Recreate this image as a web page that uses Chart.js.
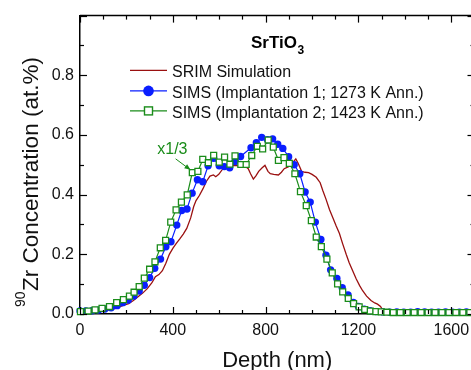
<!DOCTYPE html>
<html><head><meta charset="utf-8">
<script src="https://cdn.jsdelivr.net/npm/chart.js@4.4.1/dist/chart.umd.min.js"></script>
<style>
html,body{margin:0;padding:0;overflow:hidden;background:#fff;width:471px;height:370px}
#wrap{position:absolute;left:0;top:0;width:480px;height:370px}
canvas{display:block}
</style></head>
<body><div id="wrap"><canvas id="c" width="480" height="370"></canvas></div>
<script>
// ---- data ----
const seriesNames = ['SRIM Simulation', 'SIMS (Implantation 1; 1273 K Ann.)', 'SIMS (Implantation 2; 1423 K Ann.)'];
const xTicks = [0, 400, 800, 1200, 1600];
const yTicks = [0.0, 0.2, 0.4, 0.6, 0.8];

const srimDepth = [0,50,100,150,190,210,230,250,270,290,310,325,340,355,370,385,400,415,430,445,460,477,490,500,515,530,545,560,575,585,598,615,635,655,675,695,712,725,735,747,758,770,785,797,810,820,835,855,868,880,897,911,922,930,940,955,970,985,1000,1018,1035,1047,1060,1075,1090,1104,1118,1132,1147,1160,1175,1190,1205,1218,1235,1254,1270,1282,1295,1305,1315,1330,1400,1500,1600,1700];
const srimConc  = [0.003,0.005,0.010,0.018,0.030,0.035,0.045,0.058,0.070,0.085,0.105,0.125,0.132,0.145,0.170,0.200,0.220,0.237,0.252,0.268,0.287,0.322,0.360,0.380,0.398,0.420,0.445,0.462,0.466,0.460,0.468,0.486,0.492,0.498,0.497,0.494,0.495,0.487,0.470,0.452,0.463,0.478,0.490,0.498,0.478,0.470,0.468,0.466,0.475,0.487,0.493,0.500,0.512,0.520,0.505,0.478,0.475,0.474,0.468,0.458,0.440,0.412,0.385,0.350,0.322,0.295,0.270,0.235,0.200,0.172,0.145,0.118,0.095,0.078,0.060,0.045,0.037,0.033,0.025,0.012,0.004,0.002,0.001,0.001,0.001,0.001];

const sims1Depth = [0,25,52,80,107,134,160,184,208,232,255,277,300,322,347,370,392,417,438,461,483,506,529,552,576,600,622,645,668,692,737,760,783,808,830,852,874,899,923,947,970,992,1014,1038,1060,1080,1107,1130,1155,1178,1200,1225,1250,1275,1305,1335,1365,1395,1425,1455,1485,1515,1545,1575,1605,1635,1665,1695];
const sims1Conc  = [0.010,0.010,0.011,0.013,0.017,0.021,0.028,0.038,0.047,0.060,0.077,0.096,0.122,0.153,0.184,0.225,0.242,0.298,0.347,0.352,0.405,0.450,0.443,0.497,0.522,0.497,0.494,0.490,0.511,0.528,0.557,0.574,0.592,0.584,0.587,0.569,0.555,0.527,0.500,0.470,0.409,0.375,0.308,0.250,0.197,0.148,0.119,0.088,0.064,0.039,0.025,0.016,0.011,0.008,0.007,0.006,0.007,0.006,0.006,0.008,0.007,0.006,0.006,0.007,0.006,0.006,0.007,0.006];

const sims2Depth = [2,35,65,95,127,158,187,213,233,255,277,300,323,346,369,391,414,437,462,484,508,529,553,576,600,623,646,668,693,716,740,764,787,811,833,855,879,902,926,950,975,997,1018,1040,1064,1087,1110,1132,1156,1179,1203,1227,1251,1275,1298,1322,1350,1380,1410,1440,1470,1500,1530,1560,1590,1620,1650,1680];
const sims2Conc  = [0.008,0.010,0.014,0.019,0.025,0.038,0.048,0.060,0.073,0.092,0.120,0.150,0.175,0.222,0.247,0.308,0.349,0.375,0.399,0.474,0.478,0.518,0.507,0.532,0.509,0.526,0.502,0.530,0.501,0.501,0.531,0.562,0.553,0.583,0.559,0.515,0.524,0.505,0.470,0.410,0.363,0.313,0.258,0.226,0.184,0.138,0.101,0.074,0.052,0.035,0.024,0.015,0.010,0.008,0.007,0.006,0.005,0.005,0.005,0.005,0.005,0.005,0.005,0.005,0.005,0.005,0.005,0.005];

// annotation "x1/3" (data coordinates)
const noteText = 'x1/3';
const noteAt = {x: 398, y: 0.536};
const arrowFrom = {x: 412, y: 0.520};
const arrowTo = {x: 476, y: 0.483};

const RED = '#9a1010', BLUE = '#0a1eff', GREEN = '#1a8c1a';
const FONT = '"Liberation Sans", Arial, Helvetica, sans-serif';

const pts = (xs, ys) => xs.map((v, i) => ({x: v, y: ys[i]}));

const deco = {
  id: 'deco',
  afterDraw(chart) {
    const {ctx, chartArea: a, scales: {x, y}} = chart;
    ctx.save();
    ctx.strokeStyle = '#000';
    const line = (x1, y1, x2, y2) => { ctx.beginPath(); ctx.moveTo(x1, y1); ctx.lineTo(x2, y2); ctx.stroke(); };
    // top and right frame
    ctx.lineWidth = 1.5;
    line(a.left, a.top, a.right, a.top);
    line(a.right, a.top, a.right, a.bottom);
    // inward ticks (major + minor)
    ctx.lineWidth = 1.2;
    for (let v = x.min; v <= x.max; v += 100) {
      const px = Math.round(x.getPixelForValue(v)) + 0.5;
      const L = (v % 400 === 0) ? 7 : 4;
      line(px, a.bottom, px, a.bottom - L);
      line(px, a.top, px, a.top + L);
    }
    for (let k = 0; k <= 10; k++) {
      const py = Math.round(y.getPixelForValue(k / 10)) + 0.5;
      const L = (k % 2 === 0) ? 7 : 4;
      line(a.left, py, a.left + L, py);
      line(a.right, py, a.right - L, py);
    }
    // title SrTiO3
    ctx.fillStyle = '#000';
    ctx.textBaseline = 'alphabetic';
    ctx.textAlign = 'left';
    ctx.font = 'bold 17px ' + FONT;
    const w1 = ctx.measureText('SrTiO').width;
    ctx.font = 'bold 12px ' + FONT;
    const w2 = ctx.measureText('3').width;
    const cx = (a.left + a.right) / 2;
    const tx = cx - (w1 + w2) / 2;
    ctx.font = 'bold 17px ' + FONT;
    ctx.fillText('SrTiO', tx, a.top + 32);
    ctx.font = 'bold 12px ' + FONT;
    ctx.fillText('3', tx + w1 + 0.5, a.top + 38);
    // legend
    const ds = chart.data.datasets;
    const lx1 = a.left + 50, lx2 = a.left + 87, ltx = a.left + 92;
    const rows = [a.top + 54.7, a.top + 75.3, a.top + 95.3];
    ds.forEach((d, i) => {
      const ly = rows[i];
      ctx.strokeStyle = d.borderColor; ctx.lineWidth = d.borderWidth;
      line(lx1, ly, lx2, ly);
      const mx = (lx1 + lx2) / 2;
      if (d.pointStyle === 'circle' && d.pointRadius > 0) {
        ctx.fillStyle = d.pointBackgroundColor;
        ctx.beginPath(); ctx.arc(mx, ly, 5.3, 0, Math.PI * 2); ctx.fill();
      } else if (d.pointStyle === 'rect') {
        ctx.fillStyle = '#fff'; ctx.lineWidth = 1.4; ctx.strokeStyle = d.pointBorderColor;
        ctx.fillRect(mx - 4, ly - 4, 8, 8); ctx.strokeRect(mx - 4, ly - 4, 8, 8);
      }
      ctx.fillStyle = '#111';
      ctx.font = '16px ' + FONT;
      ctx.fillText(seriesNames[i], ltx, ly + 7);
    });
    // note x1/3 with arrow
    ctx.fillStyle = GREEN; ctx.strokeStyle = GREEN;
    ctx.font = '16px ' + FONT; ctx.textAlign = 'center';
    ctx.fillText(noteText, x.getPixelForValue(noteAt.x), y.getPixelForValue(noteAt.y));
    const ax1 = x.getPixelForValue(arrowFrom.x), ay1 = y.getPixelForValue(arrowFrom.y);
    const ax2 = x.getPixelForValue(arrowTo.x), ay2 = y.getPixelForValue(arrowTo.y);
    ctx.lineWidth = 1; line(ax1, ay1, ax2, ay2);
    const ang = Math.atan2(ay2 - ay1, ax2 - ax1);
    ctx.beginPath();
    ctx.moveTo(ax2, ay2);
    ctx.lineTo(ax2 - 6 * Math.cos(ang) + 2.5 * Math.sin(ang), ay2 - 6 * Math.sin(ang) - 2.5 * Math.cos(ang));
    ctx.lineTo(ax2 - 6 * Math.cos(ang) - 2.5 * Math.sin(ang), ay2 - 6 * Math.sin(ang) + 2.5 * Math.cos(ang));
    ctx.closePath(); ctx.fill();
    // axis titles
    ctx.fillStyle = '#111'; ctx.textAlign = 'center';
    ctx.font = '22px ' + FONT;
    ctx.fillText('Depth (nm)', cx, 367);
    ctx.save();
    ctx.translate(38, a.bottom - 7);
    ctx.rotate(-Math.PI / 2);
    ctx.textAlign = 'left';
    ctx.font = '14px ' + FONT;
    ctx.fillText('90', 0, -13);
    const ws = ctx.measureText('90').width;
    ctx.font = '22.5px ' + FONT;
    ctx.fillText('Zr Concentration (at.%)', ws + 0.5, 0);
    ctx.restore();
    ctx.restore();
  }
};

new Chart(document.getElementById('c'), {
  type: 'line',
  data: {
    datasets: [
      {label: seriesNames[0], data: pts(srimDepth, srimConc), borderColor: RED, borderWidth: 1.3,
       pointRadius: 0, pointStyle: false, tension: 0, order: 3, clip: false, fill: false},
      {label: seriesNames[1], data: pts(sims1Depth, sims1Conc), borderColor: BLUE, borderWidth: 1.2,
       pointStyle: 'circle', pointRadius: 3.7, pointBackgroundColor: BLUE, pointBorderColor: BLUE,
       pointBorderWidth: 0, tension: 0, order: 2, clip: false, fill: false},
      {label: seriesNames[2], data: pts(sims2Depth, sims2Conc), borderColor: GREEN, borderWidth: 1.2,
       pointStyle: 'rect', pointRadius: 4.2, pointBackgroundColor: '#fff', pointBorderColor: GREEN,
       pointBorderWidth: 1.3, tension: 0, order: 1, clip: false, fill: false}
    ]
  },
  options: {
    responsive: false, animation: false, devicePixelRatio: 1,
    layout: {padding: {left: 0, top: 12, right: 3, bottom: 0}},
    plugins: {legend: {display: false}, tooltip: {enabled: false}},
    scales: {
      x: {
        type: 'linear', min: 0, max: 1700,
        afterBuildTicks: s => { s.ticks = xTicks.map(v => ({value: v})); },
        afterFit: s => { s.height = 56; },
        grid: {display: false, drawTicks: false},
        border: {display: true, color: '#000', width: 1.5},
        ticks: {padding: 7, color: '#111', font: {family: FONT, size: 16}, maxRotation: 0, autoSkip: false,
                callback: v => String(v)}
      },
      y: {
        type: 'linear', min: 0, max: 1.0,
        afterBuildTicks: s => { s.ticks = yTicks.map(v => ({value: v})); },
        afterFit: s => { s.width = 80; },
        grid: {display: false, drawTicks: false},
        border: {display: true, color: '#000', width: 1.5},
        ticks: {padding: 6, color: '#111', font: {family: FONT, size: 16}, autoSkip: false,
                callback: v => Number(v).toFixed(1)}
      }
    }
  },
  plugins: [deco]
});
</script>
</body></html>
